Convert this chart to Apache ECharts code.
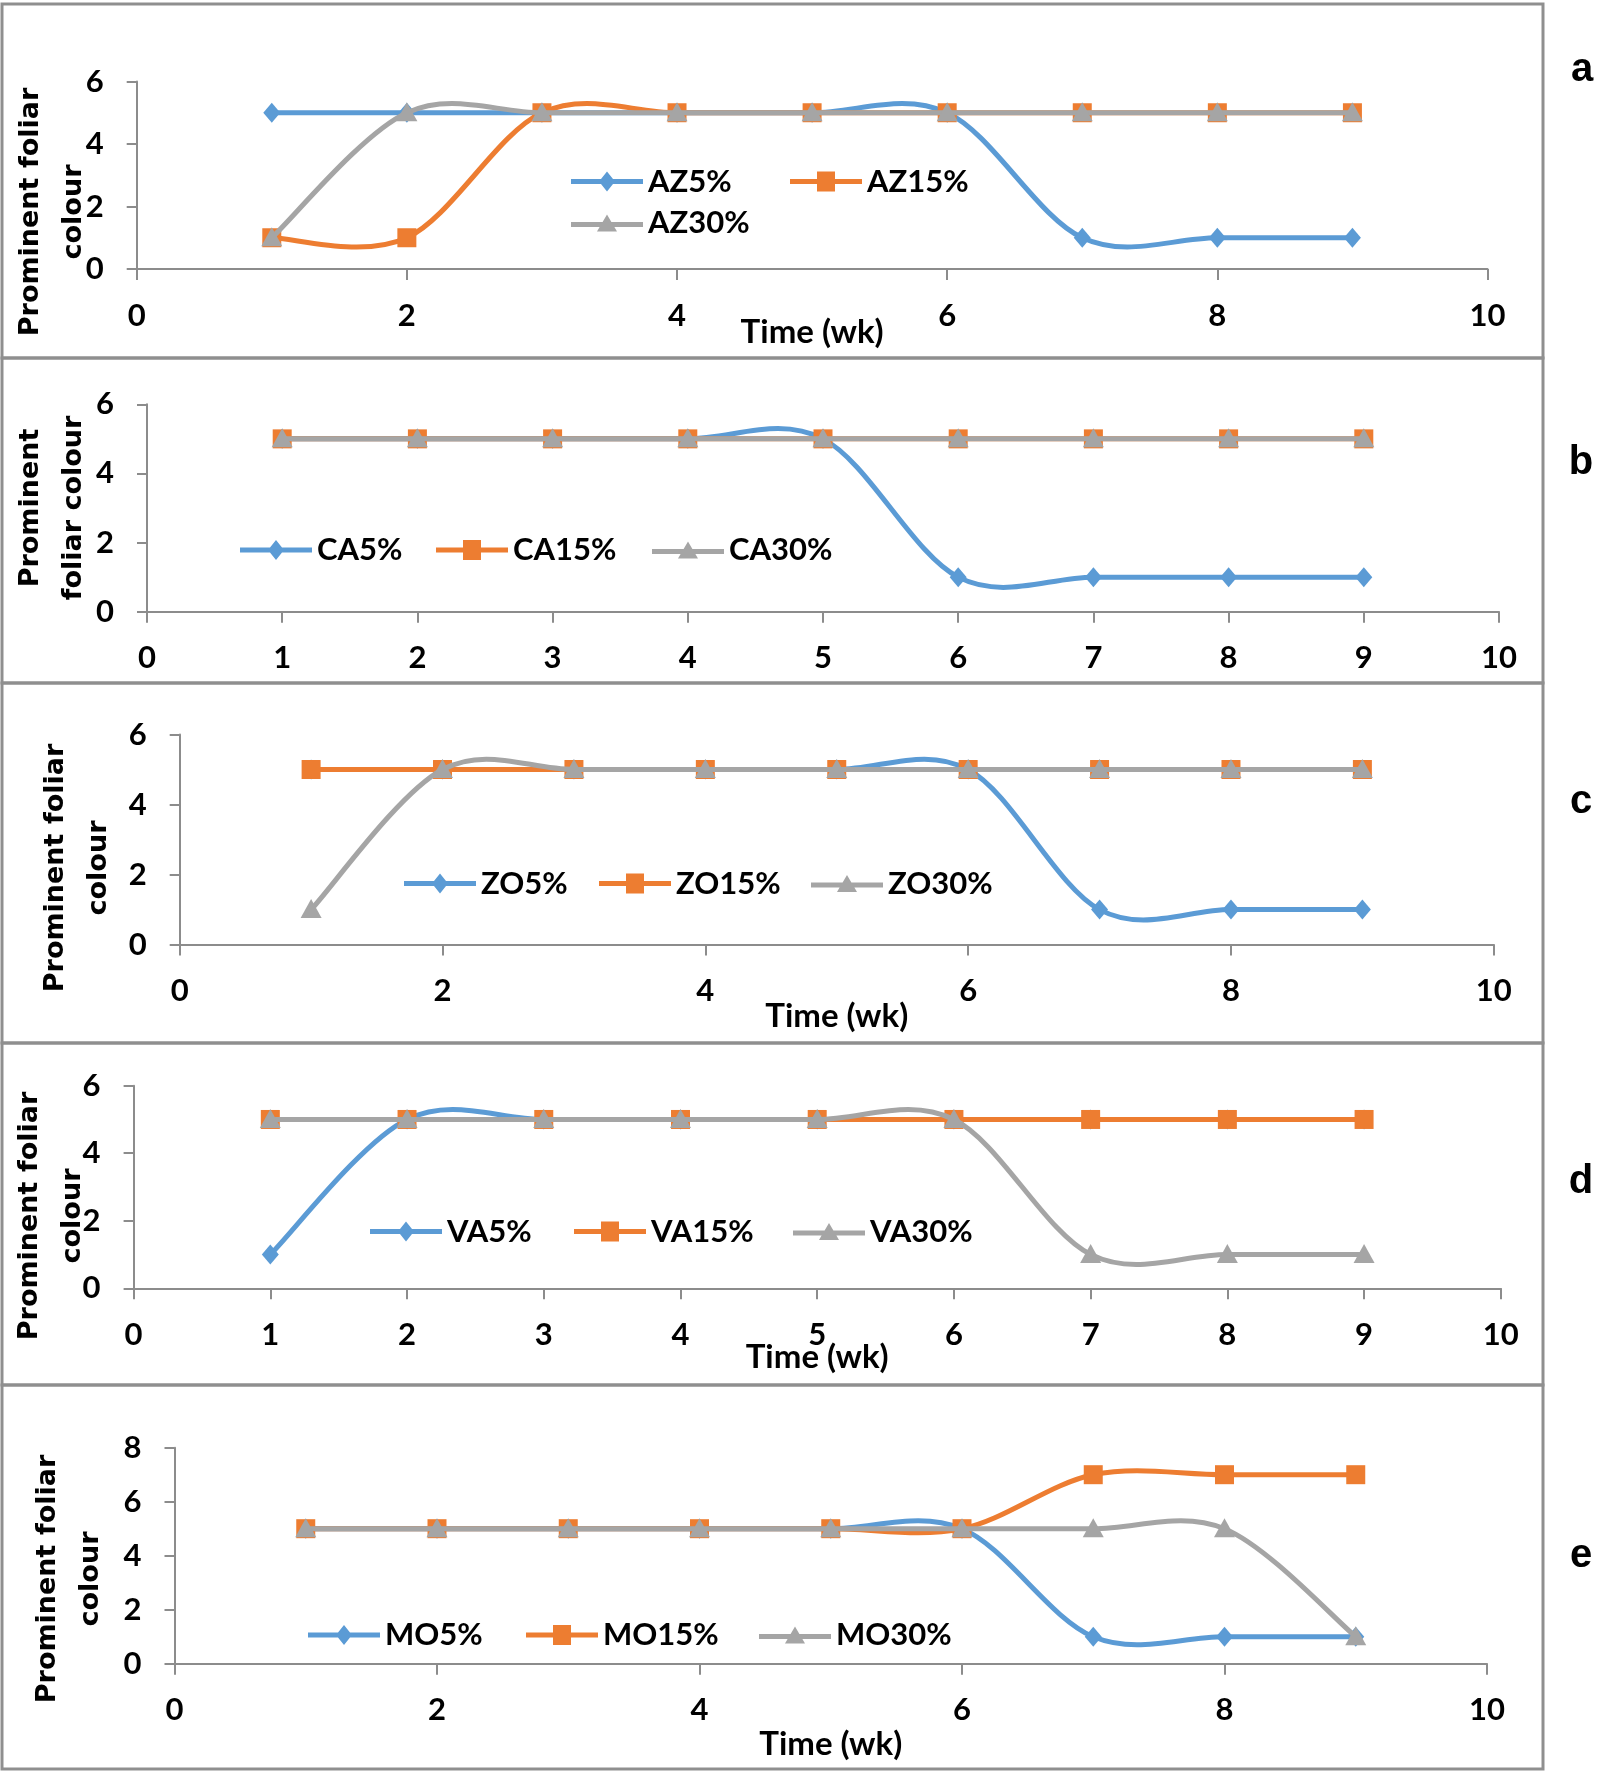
<!DOCTYPE html>
<html><head><meta charset="utf-8">
<script src="https://cdn.jsdelivr.net/npm/echarts@6/dist/echarts.min.js"></script>
<style>html,body{margin:0;padding:0;background:#fff}#c{width:1600px;height:1772px}</style>
</head><body><div id="c"></div>
<script>
// ---- data ----
const weeks = [1, 2, 3, 4, 5, 6, 7, 8, 9];
const AZ5 = [5, 5, 5, 5, 5, 5, 1, 1, 1];
const AZ15 = [1, 1, 5, 5, 5, 5, 5, 5, 5];
const AZ30 = [1, 5, 5, 5, 5, 5, 5, 5, 5];
const CA5 = [5, 5, 5, 5, 5, 1, 1, 1, 1];
const CA15 = [5, 5, 5, 5, 5, 5, 5, 5, 5];
const CA30 = [5, 5, 5, 5, 5, 5, 5, 5, 5];
const ZO5 = [5, 5, 5, 5, 5, 5, 1, 1, 1];
const ZO15 = [5, 5, 5, 5, 5, 5, 5, 5, 5];
const ZO30 = [1, 5, 5, 5, 5, 5, 5, 5, 5];
const VA5 = [1, 5, 5, 5, 5, 5, 5, 5, 5];
const VA15 = [5, 5, 5, 5, 5, 5, 5, 5, 5];
const VA30 = [5, 5, 5, 5, 5, 5, 1, 1, 1];
const MO5 = [5, 5, 5, 5, 5, 5, 1, 1, 1];
const MO15 = [5, 5, 5, 5, 5, 5, 7, 7, 7];
const MO30 = [5, 5, 5, 5, 5, 5, 5, 5, 1];
const seriesNamesA = ['AZ5%', 'AZ15%', 'AZ30%'];
const seriesNamesB = ['CA5%', 'CA15%', 'CA30%'];
const seriesNamesC = ['ZO5%', 'ZO15%', 'ZO30%'];
const seriesNamesD = ['VA5%', 'VA15%', 'VA30%'];
const seriesNamesE = ['MO5%', 'MO15%', 'MO30%'];
const xAxisTitle = 'Time (wk)';

// ---- styling / layout ----
const COLORS = ['#5B9BD5', '#ED7D31', '#A5A5A5'];
const SHAPES = ['diamond', 'square', 'triangle'];
const AXIS_COLOR = '#8c8c8c';
const TXT_FONT = 'Lato';
const ICONS = {
  diamond: 'path://M0,7.5 L30,7.5 L36,0 L42,7.5 L72,7.5 L72,12.5 L42,12.5 L36,20 L30,12.5 L0,12.5 Z',
  square: 'path://M0,7.5 L27,7.5 L27,0 L45,0 L45,7.5 L72,7.5 L72,12.5 L45,12.5 L45,20 L27,20 L27,12.5 L0,12.5 Z',
  triangle: 'path://M0,7.5 L31.6,7.5 L36,0 L40.4,7.5 L72,7.5 L72,12.5 L43.4,12.5 L46,17 L26,17 L28.6,12.5 L0,12.5 Z'
};

const panels = [
  { letter: 'a', grid: { left: 136.7, top: 81.5, width: 1350.8, height: 187.5 }, yMax: 6, xInt: 2,
    names: seriesNamesA, data: [AZ5, AZ15, AZ30], xName: xAxisTitle, nameGap: 47,
    yTitle: 'Prominent foliar\ncolour', yTitlePos: [52, 212],
    legendPos: [[571, 181.5], [790, 181.5], [571, 223]], letterPos: [1582, 70], box: [4, 358] },
  { letter: 'b', grid: { left: 147, top: 404.3, width: 1352, height: 207.4 }, yMax: 6, xInt: 1,
    names: seriesNamesB, data: [CA5, CA15, CA30], xName: '', nameGap: 50,
    yTitle: 'Prominent\nfoliar colour', yTitlePos: [52, 508],
    legendPos: [[240, 550], [436, 550], [652, 550]], letterPos: [1581, 463], box: [358, 683] },
  { letter: 'c', grid: { left: 179.7, top: 734.5, width: 1314.1, height: 210.1 }, yMax: 6, xInt: 2,
    names: seriesNamesC, data: [ZO5, ZO15, ZO30], xName: xAxisTitle, nameGap: 55,
    yTitle: 'Prominent foliar\ncolour', yTitlePos: [77, 868],
    legendPos: [[404, 883.6], [599, 883.6], [811, 883.6]], letterPos: [1581, 802], box: [683, 1043] },
  { letter: 'd', grid: { left: 133.6, top: 1085.7, width: 1367.2, height: 202.6 }, yMax: 6, xInt: 1,
    names: seriesNamesD, data: [VA5, VA15, VA30], xName: xAxisTitle, nameGap: 53,
    yTitle: 'Prominent foliar\ncolour', yTitlePos: [51, 1216],
    legendPos: [[370, 1231.6], [574, 1231.6], [793, 1231.6]], letterPos: [1581, 1182], box: [1043, 1385] },
  { letter: 'e', grid: { left: 174.5, top: 1447.7, width: 1312.5, height: 216 }, yMax: 8, xInt: 2,
    names: seriesNamesE, data: [MO5, MO15, MO30], xName: xAxisTitle, nameGap: 64,
    yTitle: 'Prominent foliar\ncolour', yTitlePos: [69, 1579],
    legendPos: [[308, 1635], [526, 1635], [759, 1635]], letterPos: [1581, 1556], box: [1385, 1769] }
];

function marker(shape, p, color) {
  const x = p[0], y = p[1];
  if (shape === 'diamond') return { type: 'polygon', z2: 10, shape: { points: [[x, y - 10], [x + 8.5, y], [x, y + 10], [x - 8.5, y]] }, style: { fill: color } };
  if (shape === 'square') return { type: 'rect', z2: 10, shape: { x: x - 9.5, y: y - 9.5, width: 19, height: 19 }, style: { fill: color } };
  return { type: 'polygon', z2: 10, shape: { points: [[x, y - 10.5], [x + 10.5, y + 8.5], [x - 10.5, y + 8.5]] }, style: { fill: color } };
}

// Excel-like smoothed line (Catmull-Rom bezier through the data points, via the axis scales)
function curveSeries(name, ys, color, shape, gi, z) {
  return {
    type: 'custom', name: name, xAxisIndex: gi, yAxisIndex: gi, z: z, clip: false,
    itemStyle: { color: color },
    data: weeks.map((w, i) => [w, ys[i]]),
    encode: { x: 0, y: 1 },
    renderItem: function (params, api) {
      const i = params.dataIndex;
      const P = weeks.map((w, k) => api.coord([w, ys[k]]));
      const n = P.length;
      const children = [];
      if (i < n - 1) {
        const p0 = P[Math.max(i - 1, 0)], p1 = P[i], p2 = P[i + 1], p3 = P[Math.min(i + 2, n - 1)];
        children.push({
          type: 'bezierCurve', z2: 0,
          shape: {
            x1: p1[0], y1: p1[1], x2: p2[0], y2: p2[1],
            cpx1: p1[0] + (p2[0] - p0[0]) / 6, cpy1: p1[1] + (p2[1] - p0[1]) / 6,
            cpx2: p2[0] - (p3[0] - p1[0]) / 6, cpy2: p2[1] - (p3[1] - p1[1]) / 6
          },
          style: { stroke: color, lineWidth: 5, fill: null, lineCap: 'round' }
        });
      }
      children.push(marker(shape, P[i], color));
      return { type: 'group', children: children };
    }
  };
}

const axisLineStyle = { color: AXIS_COLOR, width: 2 };
const labelStyle = { color: '#000', fontWeight: 'bold', fontSize: 31, fontFamily: TXT_FONT };

const grids = [], xAxes = [], yAxes = [], series = [], legends = [], graphics = [];
panels.forEach((p, gi) => {
  grids.push(Object.assign({ containLabel: false }, p.grid));
  xAxes.push({
    type: 'value', gridIndex: gi, min: 0, max: 10, interval: p.xInt,
    axisLine: { show: true, onZero: false, lineStyle: axisLineStyle },
    axisTick: { show: true, length: 11, lineStyle: axisLineStyle },
    splitLine: { show: false },
    axisLabel: Object.assign({ margin: 31 }, labelStyle),
    name: p.xName, nameLocation: 'middle', nameGap: p.nameGap, nameMoveOverlap: false,
    nameTextStyle: { color: '#000', fontWeight: 'bold', fontSize: 33, fontFamily: TXT_FONT }
  });
  yAxes.push({
    type: 'value', gridIndex: gi, min: 0, max: p.yMax, interval: 2,
    axisLine: { show: true, onZero: false, lineStyle: axisLineStyle },
    axisTick: { show: true, length: 10, lineStyle: axisLineStyle },
    splitLine: { show: false },
    axisLabel: Object.assign({ margin: 33 }, labelStyle)
  });
  p.names.forEach((nm, si) => {
    series.push(curveSeries(nm, p.data[si], COLORS[si], SHAPES[si], gi, 2 + si));
    legends.push({
      show: true, selectedMode: false, padding: 0, itemGap: 0,
      left: p.legendPos[si][0], top: p.legendPos[si][1] - 16,
      itemWidth: 72, itemHeight: SHAPES[si] === 'triangle' ? 17 : 20,
      data: [{ name: nm, icon: ICONS[SHAPES[si]] }],
      textStyle: { color: '#000', fontWeight: 'bold', fontSize: 31, fontFamily: TXT_FONT, lineHeight: 32 }
    });
  });
  graphics.push({
    type: 'rect', silent: true, z: -1,
    shape: { x: 2, y: p.box[0], width: 1541, height: p.box[1] - p.box[0] },
    style: { fill: null, stroke: '#8f8f8f', lineWidth: 3 }
  });
  graphics.push({
    type: 'text', x: p.yTitlePos[0], y: p.yTitlePos[1], rotation: Math.PI / 2,
    style: { text: p.yTitle, fill: '#000', font: 'bold 27px "DejaVu Sans"', lineHeight: 43,
      textAlign: 'center', textVerticalAlign: 'middle', align: 'center', verticalAlign: 'middle' }
  });
  graphics.push({
    type: 'text', x: p.letterPos[0], y: p.letterPos[1],
    style: { text: p.letter, fill: '#000', font: 'bold 40px "Liberation Sans"',
      textAlign: 'center', textVerticalAlign: 'middle', align: 'center', verticalAlign: 'middle' }
  });
});

const chart = echarts.init(document.getElementById('c'), null, { renderer: 'canvas' });
chart.setOption({
  animation: false,
  backgroundColor: '#fff',
  grid: grids, xAxis: xAxes, yAxis: yAxes, series: series, legend: legends,
  graphic: { elements: graphics }
});
</script>
</body></html>
